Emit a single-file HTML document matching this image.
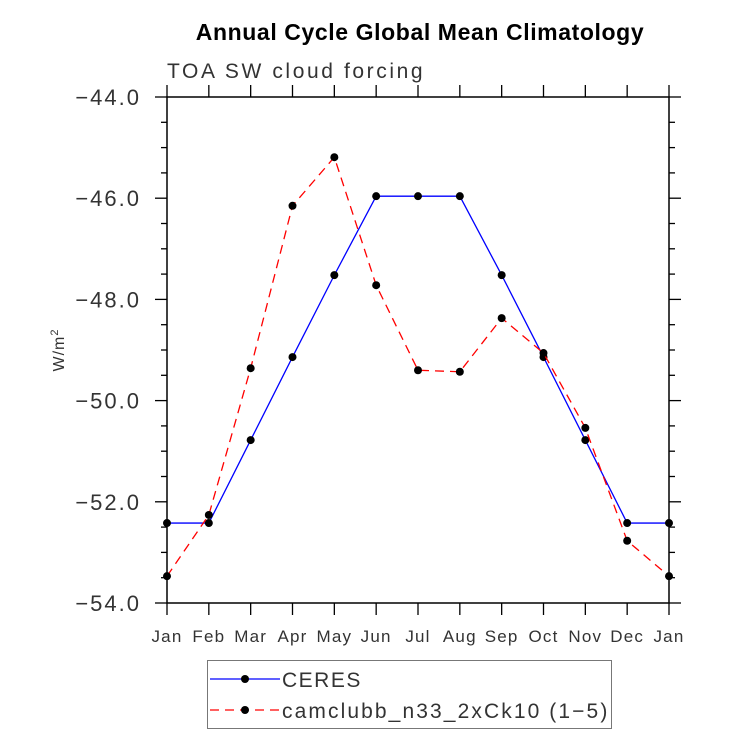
<!DOCTYPE html>
<html><head><meta charset="utf-8"><style>
body{margin:0;background:#fff}
text{font-family:"Liberation Sans",sans-serif}
</style></head><body>
<svg id="chart" width="733" height="734" xmlns="http://www.w3.org/2000/svg">
<text x="420" y="40" text-anchor="middle" font-size="23" font-weight="bold" letter-spacing="0.6">Annual Cycle Global Mean Climatology</text>
<text x="167" y="78" font-size="21" fill="#333" letter-spacing="2.6">TOA SW cloud forcing</text>
<rect x="167" y="97" width="502" height="506" fill="none" stroke="#000" stroke-width="1.5"/>
<text transform="translate(64,350) rotate(-90)" text-anchor="middle" font-size="16" fill="#333" letter-spacing="1">W/m<tspan dy="-6" font-size="11">2</tspan></text>
<g id="axes"></g>
<g id="series"></g>
<g>
<rect x="207.5" y="660.5" width="404" height="68" fill="none" stroke="#777"/>
<g>
<line x1="210" y1="679" x2="280" y2="679" stroke="#0000ff" stroke-width="1.3"/>
<circle cx="245" cy="679" r="4" fill="#000"/>
<text x="282" y="687" font-size="21" fill="#333" letter-spacing="1.5">CERES</text></g>
<g>
<line x1="210" y1="710" x2="280" y2="710" stroke="#ff0000" stroke-width="1.3" stroke-dasharray="9,6"/>
<circle cx="245" cy="710" r="4" fill="#000"/>
<text x="282" y="718" font-size="21" fill="#333" letter-spacing="2.1">camclubb_n33_2xCk10 (1−5)</text></g>
</g>
</svg>
<script>
const months = ["Jan","Feb","Mar","Apr","May","Jun","Jul","Aug","Sep","Oct","Nov","Dec","Jan"];
const ceres = [-52.42,-52.42,-50.78,-49.14,-47.52,-45.96,-45.96,-45.96,-47.52,-49.14,-50.78,-52.42,-52.42];
const model = [-53.47,-52.26,-49.36,-46.15,-45.19,-47.72,-49.4,-49.43,-48.37,-49.06,-50.54,-52.77,-53.47];
const yTicks = [-44,-46,-48,-50,-52,-54];
const yLabels = ["−44.0","−46.0","−48.0","−50.0","−52.0","−54.0"];
const NS="http://www.w3.org/2000/svg";
const X0=167,X1=669,Y0=97,Y1=603,YMAX=-44,YMIN=-54;
const xs=i=>X0+(X1-X0)*i/(months.length-1);
const ys=v=>Y0+(YMAX-v)/(YMAX-YMIN)*(Y1-Y0);
function mk(tag,attrs,parent){const e=document.createElementNS(NS,tag);for(const k in attrs)e.setAttribute(k,attrs[k]);parent.appendChild(e);return e;}
const ax=document.getElementById('axes');
months.forEach((m,i)=>{
  const x=xs(i);
  const t=mk('line',{x1:x,y1:Y1,x2:x,y2:Y1+12,stroke:'#000','stroke-width':1.3},ax);
  
  
  const t2=mk('line',{x1:x,y1:Y0,x2:x,y2:Y0-12,stroke:'#000','stroke-width':1.3},ax);
  
  
  const l=mk('text',{x:x,y:642,'text-anchor':'middle','font-size':17,fill:'#333','letter-spacing':1.2},ax);
  l.textContent=m;
  
  
});
for(let v=YMAX;v>=YMIN-0.001;v-=0.5){
  const y=ys(v);const major=Math.abs(v-Math.round(v))<0.01&&Math.round(v)%2===0;
  const len=major?12:6;
  const a=mk('line',{x1:X0-len,y1:y,x2:X0,y2:y,stroke:'#000','stroke-width':1.3},ax);
  
  
  const b=mk('line',{x1:X1,y1:y,x2:X1+len,y2:y,stroke:'#000','stroke-width':1.3},ax);
  
  
}
yTicks.forEach((v,i)=>{
  const l=mk('text',{x:141,y:ys(v)+8,'text-anchor':'end','font-size':22,fill:'#333','letter-spacing':2},ax);
  l.textContent=yLabels[i];
  
  
});
const sg=document.getElementById('series');
function draw(vals,color,dash,name){
  const p=mk('polyline',{points:vals.map((v,i)=>xs(i)+','+ys(v)).join(' '),fill:'none',stroke:color,'stroke-width':1.3},sg);
  if(dash)p.setAttribute('stroke-dasharray',dash);
  
  
  vals.forEach((v,i)=>{
    const c=mk('circle',{cx:xs(i),cy:ys(v),r:4,fill:'#000'},sg);
    
    
  });
}
draw(ceres,'#0000ff',null,'ceres');
draw(model,'#ff0000','9,6','model');
</script>
</body></html>
